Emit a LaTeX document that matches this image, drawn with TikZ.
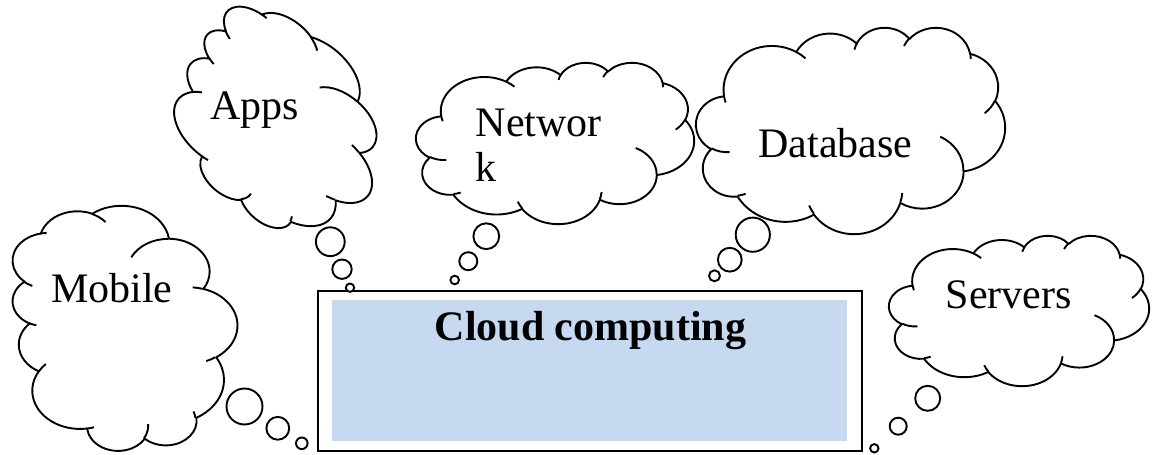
\documentclass[tikz,border=0pt]{standalone}
\usepackage{fontspec}
\setmainfont{Liberation Serif}
\definecolor{panelblue}{HTML}{C6D9F1}
% elliptical arc in DrawingML style: visual start angle and sweep -> parametric
\newcommand\mkarc[4]{%
  \pgfmathsetmacro\myta{atan2((#1)*sin(#3),(#2)*cos(#3))}%
  \pgfmathsetmacro\mytb{atan2((#1)*sin((#3)+(#4)),(#2)*cos((#3)+(#4)))}%
  \pgfmathsetmacro\mytd{\mytb-\myta}%
  \pgfmathsetmacro\mytd{(\mytd<0) ? (\mytd+360) : (\mytd)}%
  \global\let\myta\myta\global\let\mytd\mytd}
\newcommand\carc[4]{\pgfextra{\mkarc{#1}{#2}{#3}{#4}} arc[start angle=\myta, delta angle=\mytd, x radius=#1, y radius=#2]}
\newcommand\drawcloud[5]{% cx cy rot sx sy
  \begin{scope}[shift={(#1,#2)}, rotate=#3, xscale=#4, yscale=#5, shift={(-21.6,-21.6)}]
    \draw[cloudline, fill=white] (3.900,14.370)
      \carc{6.753}{9.190}{-190.4875}{123.7805}
      \carc{5.333}{7.267}{-144.1024}{89.9452}
      \carc{4.365}{5.945}{-145.8079}{99.7230}
      \carc{4.857}{6.595}{-130.9861}{117.2417}
      \carc{5.333}{7.273}{-78.7089}{109.0269}
      \carc{6.775}{9.220}{-46.2673}{130.2690}
      \carc{5.785}{7.867}{0.6250}{114.0333}
      \carc{6.752}{9.215}{22.4516}{115.1726}
      \carc{7.720}{10.543}{66.2426}{75.7110}
      \carc{4.360}{5.918}{-274.9421}{146.7356}
      \carc{4.345}{5.945}{-246.8285}{152.5189}
      -- cycle;
    \draw[cloudline]
      (4.693,26.177) \carc{4.345}{5.945}{86.7420}{26.4295}
      (6.928,34.899) \carc{4.360}{5.918}{73.6105}{11.4475}
      (16.478,39.090) \carc{6.752}{9.215}{137.6242}{14.0811}
      (28.827,34.751) \carc{6.752}{9.215}{6.4533}{15.9984}
      (34.129,22.954) \carc{5.785}{7.867}{-70.2924}{70.9174}
      (41.798,15.354) \carc{5.333}{7.273}{30.3180}{27.7515}
      (38.324,5.426) \carc{4.857}{6.595}{-13.7443}{14.8589}
      (29.078,3.952) \carc{4.857}{6.595}{-149.1815}{18.1954}
      (22.141,4.720) \carc{4.365}{5.945}{-163.4943}{17.6864}
      (14.000,5.192) \carc{6.753}{9.190}{-66.7070}{12.3194}
      (4.127,15.789) \carc{6.753}{9.190}{157.6544}{11.8582};
  \end{scope}}
\tikzset{
  cloudline/.style={line width=1.9pt, line join=round},
  bubble/.style={circle, draw, fill=white, line width=1.9pt, inner sep=0pt},
  label42/.style={inner sep=0pt, font=\fontsize{42}{45.7}\selectfont},
}
\begin{document}
\begin{tikzpicture}[x=1pt, y=-1pt]
\useasboundingbox (0,0) rectangle (1159,455);
% central box
\node (frame) [draw, line width=2.2pt, minimum width=544pt, minimum height=160pt, inner sep=0pt] at (589.7,370.7) {};
\node (panel) [fill=panelblue, minimum width=514.4pt, minimum height=141pt, inner sep=0pt] at (589.5,370.5) {};
\node (title) [anchor=base, inner sep=0pt, font=\bfseries\fontsize{42}{48}\selectfont] at (590.5,340.7) {Cloud computing};
% clouds
\drawcloud{124.22}{328.3}{90}{5.666}{5.206}
\drawcloud{279.5}{123.45}{49.4}{4.26}{5.25}
\drawcloud{555.07}{142.93}{0}{6.436}{3.734}
\drawcloud{850.57}{130.29}{0}{7.152}{4.776}
\drawcloud{1019.05}{310.48}{0}{6.019}{3.480}
% labels
\node (mobile) [label42, anchor=base west] at (51,302.7) {Mobile};
\node (apps) [label42, anchor=base west] at (210,119.3) {Apps};
\node (network) [label42, anchor=base west] at (475.5,136) {\vtop{\hbox{Networ}\hbox{k}}};
\node (database) [label42, anchor=base west] at (758.3,157.3) {Database};
\node (servers) [label42, anchor=base west] at (945.5,308.3) {Servers};
% thought bubbles
\node (mob1) [bubble, minimum size=36pt] at (244.5,406.5) {};
\node (mob2) [bubble, minimum size=22.8pt] at (277.8,428.3) {};
\node (mob3) [bubble, minimum size=11.6pt] at (301.8,443.3) {};
\node (app1) [bubble, minimum size=28.8pt] at (330.3,241.7) {};
\node (app2) [bubble, minimum size=19.4pt] at (342,269.2) {};
\node (app3) [bubble, minimum size=8.4pt] at (350,287.7) {};
\node (net1) [bubble, minimum size=25.8pt] at (486.3,236.2) {};
\node (net2) [bubble, minimum size=18pt] at (468.3,261.2) {};
\node (net3) [bubble, minimum size=8.6pt] at (454.7,280) {};
\node (db1) [bubble, minimum size=34.2pt] at (752.8,234.7) {};
\node (db2) [bubble, minimum size=23.8pt] at (729.8,259.7) {};
\node (db3) [bubble, minimum size=11pt] at (714.5,275.8) {};
\node (srv1) [bubble, minimum size=25pt] at (927.7,398.3) {};
\node (srv2) [bubble, minimum size=17pt] at (898.2,426.2) {};
\node (srv3) [bubble, minimum size=8.4pt] at (874.3,448.3) {};
\end{tikzpicture}
\end{document}
